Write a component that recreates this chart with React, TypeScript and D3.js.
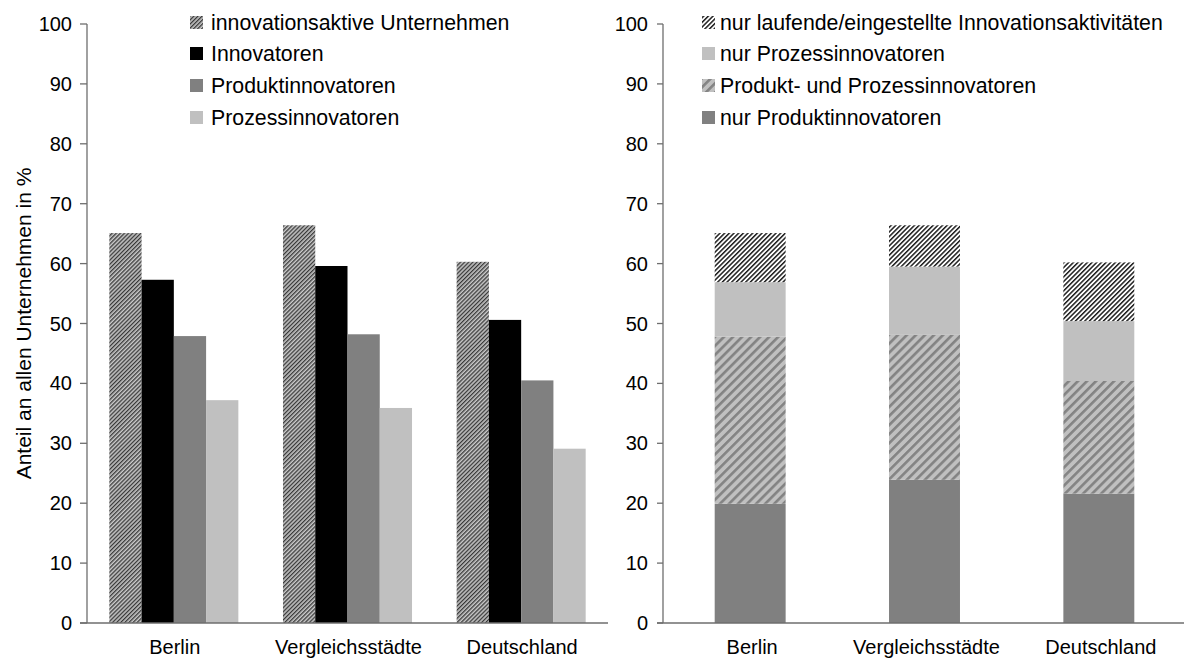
import React from "react";
import * as d3 from "d3";

const categories = ["Berlin", "Vergleichsstädte", "Deutschland"];

// Left chart: grouped bars
const leftSeries = ["innovationsaktive Unternehmen", "Innovatoren", "Produktinnovatoren", "Prozessinnovatoren"];
const innovationsaktive = [65.1, 66.4, 60.3];
const innovatoren = [57.3, 59.6, 50.6];
const produktinnovatoren = [47.9, 48.2, 40.5];
const prozessinnovatoren = [37.2, 35.9, 29.1];

// Right chart: stacked bars (bottom to top)
const rightSeries = [
  "nur Produktinnovatoren",
  "Produkt- und Prozessinnovatoren",
  "nur Prozessinnovatoren",
  "nur laufende/eingestellte Innovationsaktivitäten",
];
const nurProdukt = [19.9, 23.9, 21.6];
const produktUndProzess = [27.9, 24.2, 18.8];
const nurProzess = [9.1, 11.4, 10.0];
const nurLaufende = [8.2, 6.9, 9.8];

const yTicks = [0, 10, 20, 30, 40, 50, 60, 70, 80, 90, 100];
const yTitle = "Anteil an allen Unternehmen in %";

const W = 1184;
const H = 666;
const FONT = "'Liberation Sans', Arial, sans-serif";
const FS = 20;
const LFS = 21.3;

const leftFills = ["url(#hatchLeft)", "#000000", "#808080", "#c0c0c0"];
const rightFills = ["#808080", "url(#hatchGray)", "#c0c0c0", "url(#hatchBW)"];
const rightLegendOrder = [3, 2, 1, 0];

export default function App() {
  const y = d3.scaleLinear().domain([0, 100]).range([623, 24]);

  const xL = d3.scaleBand<string>().domain(categories).range([87, 608]).paddingInner(0.257).paddingOuter(0.1285);
  const xLInner = d3.scaleBand<string>().domain(leftSeries).range([0, xL.bandwidth()]).padding(0);
  const leftValues = [innovationsaktive, innovatoren, produktinnovatoren, prozessinnovatoren];

  const xR = d3.scaleBand<string>().domain(categories).range([663, 1186]).paddingInner(0.593).paddingOuter(0.2965);
  const rightValues = [nurProdukt, produktUndProzess, nurProzess, nurLaufende];
  const table = categories.map((c, i) => {
    const o: any = { cat: c };
    rightSeries.forEach((s, k) => (o[s] = rightValues[k][i]));
    return o;
  });
  const stacked = d3.stack<any>().keys(rightSeries)(table);

  const axisColor = "#6e6e6e";
  const legendY = [22.5, 53.5, 85.5, 117.5];

  return (
    <svg width={W} height={H} style={{ position: "absolute", left: 0, top: 0, background: "#fff" }} fontFamily={FONT}>
      <defs>
        <pattern id="hatchLeft" patternUnits="userSpaceOnUse" width={2.9} height={2.9} patternTransform="rotate(45)">
          <rect width={2.9} height={2.9} fill="#c8c8c8" />
          <rect width={1.3} height={2.9} fill="#383838" />
        </pattern>
        <pattern id="hatchBW" patternUnits="userSpaceOnUse" width={3.3} height={3.3} patternTransform="rotate(45)">
          <rect width={3.3} height={3.3} fill="#ffffff" />
          <rect width={1.5} height={3.3} fill="#1e1e1e" />
        </pattern>
        <pattern id="hatchGray" patternUnits="userSpaceOnUse" width={6.4} height={6.4} patternTransform="rotate(45)">
          <rect width={6.4} height={6.4} fill="#c0c0c0" />
          <rect width={2.6} height={6.4} fill="#838383" />
        </pattern>
      </defs>

      {/* Y title */}
      <text transform={`translate(23,${y(50)}) rotate(-90)`} textAnchor="middle" dominantBaseline="central" fontSize={21} fill="#000">
        {yTitle}
      </text>

      {/* LEFT CHART */}
      <g>
        {categories.map((c, i) =>
          leftSeries.map((s, k) => (
            <rect
              key={c + s}
              x={(xL(c) as number) + (xLInner(s) as number)}
              y={y(leftValues[k][i])}
              width={xLInner.bandwidth()}
              height={y(0) - y(leftValues[k][i])}
              fill={leftFills[k]}
            />
          ))
        )}
        <line x1={87} x2={87} y1={y(100)} y2={y(0)} stroke={axisColor} strokeWidth={1.3} />
        <line x1={80} x2={608} y1={y(0)} y2={y(0)} stroke={axisColor} strokeWidth={1.3} />
        {yTicks.map((t) => (
          <g key={"lt" + t}>
            <line x1={80} x2={87} y1={y(t)} y2={y(t)} stroke={axisColor} strokeWidth={1.3} />
            <text x={72} y={y(t)} textAnchor="end" dominantBaseline="central" fontSize={FS}>
              {t}
            </text>
          </g>
        ))}
        {categories.map((c) => (
          <text key={"lc" + c} x={(xL(c) as number) + xL.bandwidth() / 2 + 1} y={647} textAnchor="middle" dominantBaseline="central" fontSize={FS}>
            {c}
          </text>
        ))}
        {leftSeries.map((s, k) => (
          <g key={"ll" + s}>
            <rect x={190} y={legendY[k] - 6.5} width={13} height={13} fill={leftFills[k]} />
            <text x={211} y={legendY[k]} dominantBaseline="central" fontSize={LFS}>
              {s}
            </text>
          </g>
        ))}
      </g>

      {/* RIGHT CHART */}
      <g>
        {stacked.map((layer, k) =>
          layer.map((d, i) => (
            <rect
              key={rightSeries[k] + i}
              x={xR(categories[i]) as number}
              y={y(d[1])}
              width={xR.bandwidth()}
              height={y(d[0]) - y(d[1])}
              fill={rightFills[k]}
            />
          ))
        )}
        <line x1={663} x2={663} y1={y(100)} y2={y(0)} stroke={axisColor} strokeWidth={1.3} />
        <line x1={657} x2={1184} y1={y(0)} y2={y(0)} stroke={axisColor} strokeWidth={1.3} />
        {yTicks.map((t) => (
          <g key={"rt" + t}>
            <line x1={657} x2={663} y1={y(t)} y2={y(t)} stroke={axisColor} strokeWidth={1.3} />
            <text x={648} y={y(t)} textAnchor="end" dominantBaseline="central" fontSize={FS}>
              {t}
            </text>
          </g>
        ))}
        {categories.map((c) => (
          <text key={"rc" + c} x={(xR(c) as number) + xR.bandwidth() / 2 + 2} y={647} textAnchor="middle" dominantBaseline="central" fontSize={FS}>
            {c}
          </text>
        ))}
        {rightLegendOrder.map((k, row) => (
          <g key={"rl" + k}>
            <rect x={702} y={legendY[row] - 6.5} width={13} height={13} fill={rightFills[k]} />
            <text x={720} y={legendY[row]} dominantBaseline="central" fontSize={LFS}>
              {rightSeries[k]}
            </text>
          </g>
        ))}
      </g>
    </svg>
  );
}
